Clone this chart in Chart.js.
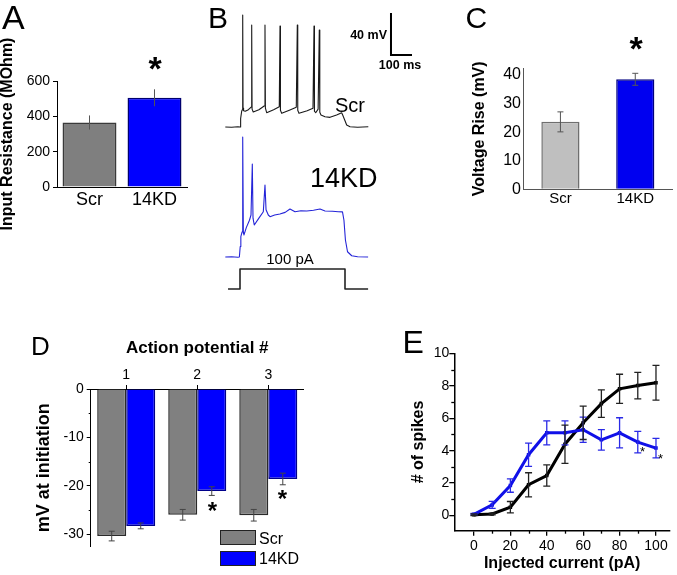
<!DOCTYPE html>
<html><head><meta charset="utf-8">
<script src="https://cdn.jsdelivr.net/npm/chart.js@4.4.1/dist/chart.umd.min.js"></script>
<style>
html,body{margin:0;padding:0;background:#fff;}
#wrap{position:relative;width:677px;height:575px;overflow:hidden;font-family:'Liberation Sans',Arial,Helvetica,sans-serif;}
canvas{position:absolute;left:0;top:0;}
.t{position:absolute;line-height:1;white-space:nowrap;color:#000;}
.box{position:absolute;box-sizing:border-box;border:1.5px solid #222;}
</style></head><body><div id="wrap">
<canvas id="cA" width="677" height="575"></canvas>
<canvas id="cC" width="677" height="575"></canvas>
<canvas id="cD" width="677" height="575"></canvas>
<canvas id="cE" width="677" height="575"></canvas>
<canvas id="cB1" width="677" height="575"></canvas>
<canvas id="cB2" width="677" height="575"></canvas>
<canvas id="cB3" width="677" height="575"></canvas>
</div>
<script>
// ---------- DATA ----------
const groupLabels = ['Scr', '14KD'];
const resistanceMean = [365, 505];
const resistanceErr = [40, 48];
const resistanceTicks = [0, 200, 400, 600];

const riseMean = [23.6, 38.5];
const riseErr = [3.5, 2.1];
const riseTicks = [0, 10, 20, 30, 40];

const apLabels = ['1', '2', '3'];
const apScr = [-30.4, -26.0, -26.1];
const apScrErr = [1.0, 1.1, 1.2];
const apKD = [-28.3, -21.1, -18.6];
const apKDErr = [0.6, 0.9, 1.2];
const apTicks = [0, -10, -20, -30];
const apMinorTicks = [-5, -15, -25];

const currents = [0, 10, 20, 30, 40, 50, 60, 70, 80, 90, 100];
const spikesScr = [0.05, 0.1, 0.52, 1.9, 2.47, 4.4, 5.72, 6.9, 7.81, 8.01, 8.18];
const spikesScrErr = [0.05, 0.05, 0.35, 0.74, 0.65, 1.18, 1.03, 0.85, 0.9, 0.82, 1.07];
const spikesKD = [0.08, 0.66, 1.85, 3.75, 5.1, 5.1, 5.29, 4.67, 5.1, 4.53, 4.16];
const spikesKDErr = [0.05, 0.22, 0.41, 0.72, 0.74, 0.74, 0.78, 0.63, 0.93, 0.66, 0.6];
const spikeXTicks = [0, 20, 40, 60, 80, 100];
const spikeXMinor = [10, 30, 50, 70, 90];
const spikeYTicks = [0, 2, 4, 6, 8, 10];
const spikeYMinor = [1, 3, 5, 7, 9];

// traces: [time ms, mV]
const traceScr = [[-70,-70],[-40,-70.3],[-10,-69.8],[0,-70],[3,-62],[8,-55],[11,-53.5],[12.9,36.7],[14.5,-52],[17,-54.5],[25,-55],[40,-53.5],[53,-51],[55.7,27.1],[57.5,-53],[63,-55.7],[90,-53.5],[115,-50],[119,27.1],[121,-52],[127,-56.4],[160,-53.5],[187,-50.7],[190.5,26.2],[192.5,-54],[198.6,-57],[235,-54],[268,-51.2],[272.9,27.1],[275,-54],[281,-57],[320,-54.5],[347.6,-52.2],[352.4,26.2],[354.5,-55],[360.5,-56.4],[372,-53],[377.6,22.4],[380,-56],[385.7,-58.6],[404.8,-60.2],[428.6,-60.8],[460,-58.6],[484,-56.4],[489,-58.6],[500,-64],[508,-68.1],[524,-69.7],[560,-70.2],[611,-69.8]];
const traceKD = [[-70,-70],[-40,-69.8],[-10,-70.2],[-3,-70],[1,-60],[4,-50.5],[10,-46],[12.9,44.3],[16,-47],[19,-49],[30,-42],[45,-35],[52.4,-30],[58.6,18.6],[62,-33],[68,-39.5],[90,-33],[111,-26.9],[119,-1.4],[124,-25],[134.8,-30],[143,-31.6],[165,-30],[190,-29],[215,-27.5],[238,-24.3],[262,-26.9],[290,-26],[318,-26.2],[350,-25.5],[381,-24.3],[405,-26.2],[440,-26.5],[468,-26.9],[488,-27],[495,-35],[502,-53.8],[512,-65],[532,-68.8],[560,-69.8],[610,-70]];
const stepCurrent = [[-57,0],[0,0],[0,100],[500,100],[500,0],[610,0]];
const scaleBarMv = 40;
const scaleBarMs = 100;

// ---------- SETUP ----------
Chart.defaults.font.family = "'Liberation Sans', Arial, Helvetica, sans-serif";
Chart.defaults.color = '#000';
Chart.defaults.animation = false;
Chart.defaults.events = [];
Chart.defaults.plugins.legend.display = false;
Chart.defaults.plugins.tooltip.enabled = false;

const errorBarPlugin = {
  id: 'errbars',
  afterDatasetsDraw(chart) {
    const ctx = chart.ctx, ys = chart.scales.y;
    chart.data.datasets.forEach((ds, di) => {
      if (!ds.errors) return;
      const meta = chart.getDatasetMeta(di);
      ctx.save();
      ctx.strokeStyle = ds.errColor; ctx.lineWidth = ds.errWidth;
      meta.data.forEach((el, i) => {
        const d = ds.data[i];
        const val = (typeof d === 'object') ? d.y : d;
        const e = ds.errors[i];
        const x = el.x;
        const y1 = ys.getPixelForValue(val - e), y2 = ys.getPixelForValue(val + e);
        const c = ds.errCap || 0;
        ctx.beginPath();
        ctx.moveTo(x, y1); ctx.lineTo(x, y2);
        if (c) { ctx.moveTo(x - c, y1); ctx.lineTo(x + c, y1); ctx.moveTo(x - c, y2); ctx.lineTo(x + c, y2); }
        ctx.stroke();
      });
      ctx.restore();
    });
  }
};

const minorTickPlugin = {
  id: 'minorTicks',
  afterDraw(chart, args, opts) {
    if (!opts || (!opts.x && !opts.y)) return;
    const ctx = chart.ctx; ctx.save();
    ctx.strokeStyle = opts.color || '#000'; ctx.lineWidth = opts.width || 1;
    const len = opts.len || 3;
    if (opts.y) {
      const s = chart.scales.y;
      opts.y.forEach(v => { const p = Math.round(s.getPixelForValue(v)) + 0.5; ctx.beginPath(); ctx.moveTo(s.right - len, p); ctx.lineTo(s.right, p); ctx.stroke(); });
    }
    if (opts.x) {
      const s = chart.scales.x;
      opts.x.forEach(v => { const p = Math.round(s.getPixelForValue(v)) + 0.5; ctx.beginPath(); ctx.moveTo(p, s.top); ctx.lineTo(p, s.top + len); ctx.stroke(); });
    }
    ctx.restore();
  }
};

const scaleBarPlugin = {
  id: 'scaleBar',
  afterDraw(chart, args, opts) {
    if (!opts || opts.t0 === undefined) return;
    const xs = chart.scales.x, ys = chart.scales.y, ctx = chart.ctx;
    const x0 = xs.getPixelForValue(opts.t0), y0 = ys.getPixelForValue(opts.v0);
    const yTop = ys.getPixelForValue(opts.v0 + opts.mv), xR = xs.getPixelForValue(opts.t0 + opts.ms);
    ctx.save(); ctx.strokeStyle = '#000'; ctx.lineWidth = 2; ctx.lineCap = 'butt';
    ctx.beginPath(); ctx.moveTo(x0, yTop); ctx.lineTo(x0, y0); ctx.lineTo(xR, y0); ctx.stroke();
    ctx.restore();
  }
};

function ticksFrom(arr) { return s => { s.ticks = arr.map(v => ({ value: v })); }; }
const axisBase = { grid: { display: true, drawOnChartArea: false, color: '#000' }, border: { color: '#000', width: 1 } };

// ---------- A ----------
new Chart(document.getElementById('cA'), {
  type: 'bar',
  data: { labels: groupLabels, datasets: [{
    data: resistanceMean, errors: resistanceErr, errColor: '#555', errWidth: 1, errCap: 0,
    backgroundColor: ['#7f7f7f', '#0000ff'], borderColor: ['#3a3a3a', '#00006e'], borderWidth: 1.5,
    categoryPercentage: 0.83, barPercentage: 1 }] },
  options: { responsive: false, layout: { padding: { left: 0, top: 81, right: 490, bottom: 358 } },
    scales: {
      x: { grid: { display: true, drawOnChartArea: false, drawTicks: false }, border: { color: '#000' },
        ticks: { font: { size: 18 }, padding: 2, color: '#000' }, afterFit: s => { s.height = 30; } },
      y: { min: 0, max: 600, afterBuildTicks: ticksFrom(resistanceTicks),
        grid: { display: true, drawOnChartArea: false, drawTicks: true, tickLength: 4, color: '#000' }, border: { color: '#000' },
        ticks: { font: { size: 14 }, padding: 3, color: '#000' },
        title: { display: true, text: 'Input Resistance (MOhm)', font: { size: 16, weight: 'bold', lineHeight: 1 }, padding: 0, color: '#000' },
        afterFit: s => { s.width = 57; } }
    } },
  plugins: [errorBarPlugin]
});

// ---------- C ----------
new Chart(document.getElementById('cC'), {
  type: 'bar',
  data: { labels: groupLabels, datasets: [{
    data: riseMean, errors: riseErr, errColor: '#555', errWidth: 1, errCap: 3,
    backgroundColor: ['#bfbfbf', '#0000f0'], borderColor: ['#6e6e6e', '#000080'], borderWidth: 1.5,
    categoryPercentage: 0.51, barPercentage: 1 }] },
  options: { responsive: false, layout: { padding: { left: 470.4, top: 68.3, right: 4.3, bottom: 357.7 } },
    scales: {
      x: { grid: { display: true, drawOnChartArea: false, drawTicks: false }, border: { color: '#555' },
        ticks: { font: { size: 15 }, padding: 1, color: '#000' }, afterFit: s => { s.height = 28; } },
      y: { min: 0, max: 42.35, afterBuildTicks: ticksFrom(riseTicks),
        grid: { display: true, drawOnChartArea: false, drawTicks: false }, border: { color: '#555' },
        ticks: { font: { size: 16 }, padding: 2, color: '#000' },
        title: { display: true, text: 'Voltage Rise (mV)', font: { size: 16, weight: 'bold' }, padding: 0, color: '#000' },
        afterFit: s => { s.width = 52.6; } }
    } },
  plugins: [errorBarPlugin]
});

// ---------- D ----------
new Chart(document.getElementById('cD'), {
  type: 'bar',
  data: { labels: apLabels, datasets: [
    { label: 'Scr', data: apScr, errors: apScrErr, errColor: '#444', errWidth: 1, errCap: 3,
      backgroundColor: '#808080', borderColor: '#2a2a2a', borderWidth: 1.5, categoryPercentage: 0.817, barPercentage: 1 },
    { label: '14KD', data: apKD, errors: apKDErr, errColor: '#444', errWidth: 1, errCap: 3,
      backgroundColor: '#0000ff', borderColor: '#00008b', borderWidth: 1.5, categoryPercentage: 0.817, barPercentage: 1 }
  ] },
  options: { responsive: false, layout: { padding: { left: 33.2, top: 338, right: 373.2, bottom: 28.3 } },
    plugins: { minorTicks: { y: apMinorTicks, len: 2 } },
    scales: {
      x: { position: 'top', grid: { display: true, drawOnChartArea: false, drawTicks: true, tickLength: 4, offset: false, color: '#000' }, border: { color: '#000' },
        ticks: { font: { size: 14 }, padding: 1, color: '#000' },
        title: { display: true, text: 'Action potential #', font: { size: 17, weight: 'bold' }, padding: 0, color: '#000' },
        afterFit: s => { s.height = 51; } },
      y: { min: -32.6, max: 0, afterBuildTicks: ticksFrom(apTicks),
        grid: { display: true, drawOnChartArea: false, drawTicks: true, tickLength: 4, color: '#000' }, border: { color: '#000' },
        ticks: { font: { size: 14 }, padding: 3, color: '#000' },
        title: { display: true, text: 'mV at initiation', font: { size: 18, weight: 'bold' }, padding: 0, color: '#000' },
        afterFit: s => { s.width = 57.5; } }
    } },
  plugins: [errorBarPlugin, minorTickPlugin]
});

// ---------- E ----------
new Chart(document.getElementById('cE'), {
  type: 'scatter',
  data: { datasets: [
    { label: '14KD', data: currents.map((c, i) => ({ x: c, y: spikesKD[i] })), errors: spikesKDErr,
      errColor: '#2a2ae6', errWidth: 1.3, errCap: 3.5, showLine: true, borderColor: '#1010e8', backgroundColor: '#1010e8',
      borderWidth: 3, pointStyle: 'rect', pointRadius: 2.5, pointBorderWidth: 0 },
    { label: 'Scr', data: currents.map((c, i) => ({ x: c, y: spikesScr[i] })), errors: spikesScrErr,
      errColor: '#222', errWidth: 1.3, errCap: 3.5, showLine: true, borderColor: '#000', backgroundColor: '#000',
      borderWidth: 3, pointStyle: 'rect', pointRadius: 2.5, pointBorderWidth: 0 }
  ] },
  options: { responsive: false, layout: { padding: { left: 409.1, top: 353.3, right: 7, bottom: 1.4 } },
    plugins: { minorTicks: { x: spikeXMinor, y: spikeYMinor, len: 3, width: 1.3 } },
    scales: {
      x: { type: 'linear', min: -10.8, max: 107.7, afterBuildTicks: ticksFrom(spikeXTicks),
        grid: { display: true, drawOnChartArea: false, drawTicks: true, tickLength: 5, color: '#000', lineWidth: 1.3 }, border: { color: '#000', width: 1.5 },
        ticks: { font: { size: 14 }, padding: 2, color: '#000' },
        title: { display: true, text: 'Injected current (pA)', font: { size: 16, weight: 'bold' }, padding: 0, color: '#000' },
        afterFit: s => { s.height = 42.9; } },
      y: { min: -0.93, max: 10, afterBuildTicks: ticksFrom(spikeYTicks),
        grid: { display: true, drawOnChartArea: false, drawTicks: true, tickLength: 5, color: '#000', lineWidth: 1.3 }, border: { color: '#000', width: 1.5 },
        ticks: { font: { size: 14 }, padding: 0, color: '#000' },
        title: { display: true, text: '# of spikes', font: { size: 16, weight: 'bold' }, padding: 0, color: '#000' },
        afterFit: s => { s.width = 45.2; } }
    } },
  plugins: [errorBarPlugin, minorTickPlugin]
});

// ---------- B (traces) ----------
function traceChart(id, pts, color, width, padding, yMin, yMax, pluginOpts) {
  return new Chart(document.getElementById(id), {
    type: 'scatter',
    data: { datasets: [{ data: pts.map(p => ({ x: p[0], y: p[1] })), showLine: true, pointRadius: 0,
      borderColor: color, borderWidth: width, borderJoinStyle: 'round', tension: 0 }] },
    options: { responsive: false, layout: { padding },
      scales: { x: { type: 'linear', display: false, min: -80, max: 880 }, y: { display: false, min: yMin, max: yMax } },
      plugins: pluginOpts || {} },
    plugins: [scaleBarPlugin]
  });
}
traceChart('cB1', traceScr, '#1a1a1a', 1.1, { left: 223.2, right: 252.2, top: 1, bottom: 437.5 }, -80, 50,
  { scaleBar: { t0: 719, v0: -1.4, mv: scaleBarMv, ms: scaleBarMs } });
traceChart('cB2', traceKD, '#2424d8', 1.1, { left: 223.2, right: 252.2, top: 131, bottom: 307.5 }, -80, 50);
traceChart('cB3', stepCurrent, '#222', 1.6, { left: 223.2, right: 252.2, top: 265, bottom: 282 }, -20, 120);

// ---------- Text labels ----------
const wrap = document.getElementById('wrap');
function addText(txt, x, baseline, size, opt) {
  opt = opt || {};
  const d = document.createElement('div');
  d.className = 't';
  d.textContent = txt;
  d.style.fontSize = size + 'px';
  if (opt.bold) d.style.fontWeight = 'bold';
  d.style.top = (baseline - 0.8465 * size) + 'px';
  d.style.left = x + 'px';
  if (opt.align === 'center') d.style.transform = 'translateX(-50%)';
  if (opt.align === 'right') d.style.transform = 'translateX(-100%)';
  wrap.appendChild(d);
}
addText('A', 2, 28.3, 34);
addText('B', 208, 28.3, 30);
addText('C', 465.5, 28.3, 30);
addText('D', 31, 355, 26);
addText('E', 402.5, 353.3, 32);
addText('*', 155, 79.5, 34, { bold: true, align: 'center' });
addText('*', 636, 59.5, 34, { bold: true, align: 'center' });
addText('*', 212.5, 519.3, 24, { bold: true, align: 'center' });
addText('*', 282.5, 507.3, 24, { bold: true, align: 'center' });
addText('*', 642.5, 456, 13, { align: 'center' });
addText('*', 660.5, 463, 13, { align: 'center' });
addText('Scr', 335, 111.7, 20);
addText('14KD', 310, 188.3, 27);
addText('100 pA', 290, 264, 15, { align: 'center' });
addText('40 mV', 387, 40, 12.5, { bold: true, align: 'right' });
addText('100 ms', 400, 69.5, 12.5, { bold: true, align: 'center' });
addText('Scr', 259, 545, 16);
addText('14KD', 259, 565, 16);
function addBox(l, t, w, h, fill) {
  const b = document.createElement('div'); b.className = 'box';
  b.style.left = l + 'px'; b.style.top = t + 'px'; b.style.width = w + 'px'; b.style.height = h + 'px'; b.style.background = fill;
  wrap.appendChild(b);
}
addBox(220, 530, 36, 15, '#808080');
addBox(220, 551, 36, 14.5, '#0000ff');
</script>
</body></html>
